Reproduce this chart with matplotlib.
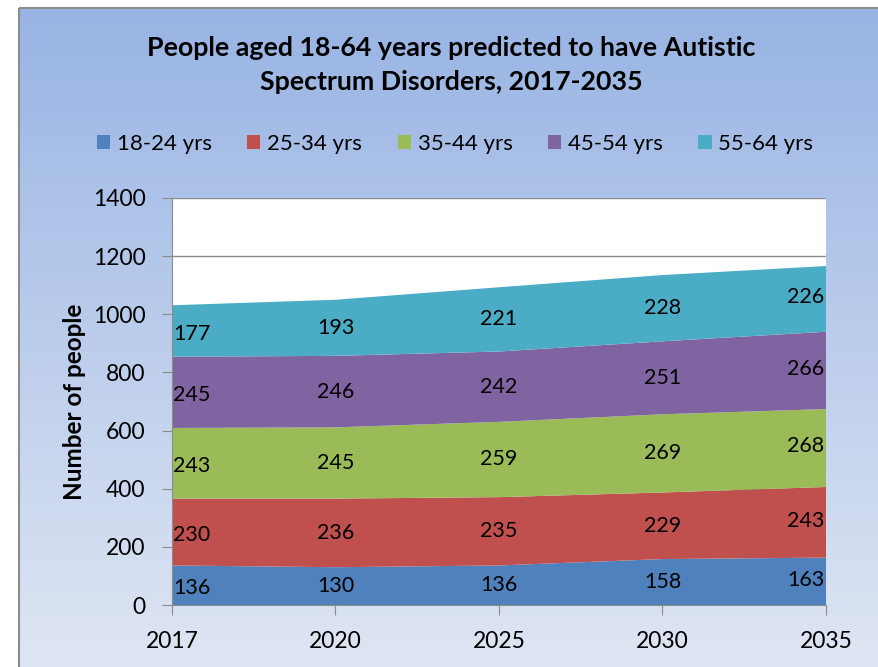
import numpy as np
import matplotlib
matplotlib.use('Agg')
import matplotlib.pyplot as plt
from matplotlib.patches import Rectangle

plt.rcParams['font.family'] = ['Lato', 'DejaVu Sans']

# data
years = ['2017', '2020', '2025', '2030', '2035']
age_groups = ['18-24 yrs', '25-34 yrs', '35-44 yrs', '45-54 yrs', '55-64 yrs']
v_18_24 = [136, 130, 136, 158, 163]
v_25_34 = [230, 236, 235, 229, 243]
v_35_44 = [243, 245, 259, 269, 268]
v_45_54 = [245, 246, 242, 251, 266]
v_55_64 = [177, 193, 221, 228, 226]
colors = ['#4F81BD', '#C0504D', '#9BBB59', '#8064A2', '#4BACC6']

series = [v_18_24, v_25_34, v_35_44, v_45_54, v_55_64]

fig = plt.figure(figsize=(8.79, 6.67), dpi=100)

# gradient background inside chart frame
bg = fig.add_axes([0, 0, 1, 1], zorder=0)
bg.set_xlim(0, 879)
bg.set_ylim(667, 0)
bg.axis('off')
grad = np.linspace(0, 1, 256).reshape(-1, 1)
top = np.array([0x98, 0xB4, 0xE4]) / 255
bottom = np.array([0xDF, 0xE6, 0xF3]) / 255
img = top + grad[..., None] * (bottom - top)
img = img.reshape(256, 1, 3)
bg.imshow(img, extent=[19, 879, 667, 8], aspect='auto')
bg.add_patch(Rectangle((19, 8), 900, 700, fill=False, edgecolor='#8C8C8C', lw=1.5))

ax = fig.add_axes([172 / 879, 1 - 605 / 667, (826 - 172) / 879, (605 - 198) / 667], zorder=1)
ax.set_facecolor('white')
x = np.arange(len(years))
ax.stackplot(x, *series, colors=colors, labels=age_groups, zorder=2)

# data labels
bottoms = np.zeros(len(years))
for vals in series:
    vals = np.array(vals)
    mids = bottoms + vals / 2
    for i, v in enumerate(vals):
        if i == 0:
            ax.text(i + 0.005, mids[i] - 10, str(v), ha='left', va='center', fontsize=15.5, zorder=3)
        elif i == len(years) - 1:
            ax.text(i - 0.01, mids[i] + 6, str(v), ha='right', va='center', fontsize=15.5, zorder=3)
        else:
            ax.text(i, mids[i], str(v), ha='center', va='center', fontsize=15.5, zorder=3)
    bottoms = bottoms + vals

ax.set_xlim(0, len(years) - 1)
ax.set_ylim(0, 1400)
ax.set_yticks(range(0, 1401, 200))
ax.set_xticks(x)
ax.set_xticklabels(years)
ax.yaxis.grid(True, color='#8C8C8C', lw=1)
ax.set_axisbelow(True)
for s in ['top', 'right']:
    ax.spines[s].set_visible(False)
for s in ['left', 'bottom']:
    ax.spines[s].set_color('#8C8C8C')
ax.tick_params(axis='both', colors='#8C8C8C', labelcolor='black', labelsize=16.5, length=7)
ax.tick_params(axis='y', pad=12)
ax.tick_params(axis='x', pad=12)
ax.set_ylabel('Number of people', fontsize=17.5, fontweight='bold', labelpad=5)

fig.text(451 / 879, 1 - 65 / 667, 'People aged 18-64 years predicted to have Autistic\nSpectrum Disorders, 2017-2035',
         ha='center', va='center', fontsize=19.3, fontweight='bold', linespacing=1.45)

ax.legend(loc='center', bbox_to_anchor=(455 / 879, 1 - 144 / 667), bbox_transform=fig.transFigure,
          ncol=5, frameon=False, fontsize=16, handlelength=0.6, handleheight=0.6,
          handletextpad=0.3, columnspacing=1.6)

fig.savefig('out.png', dpi=100)
